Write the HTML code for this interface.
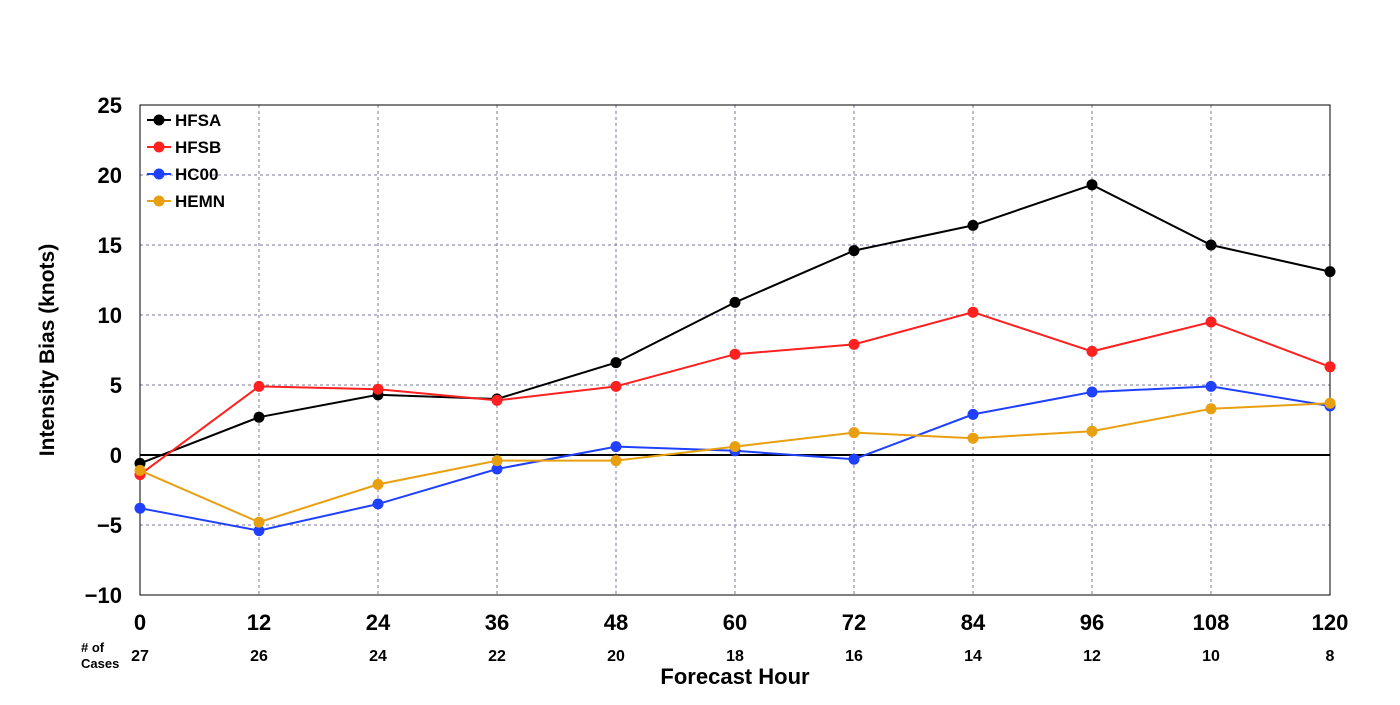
<!DOCTYPE html>
<html><head><meta charset="utf-8"><style>
body{margin:0;background:#fff;width:1400px;height:700px;overflow:hidden;font-family:"Liberation Sans",sans-serif}
</style></head><body>
<svg id="chart" width="1400" height="700" xmlns="http://www.w3.org/2000/svg" font-family="Liberation Sans, DejaVu Sans, sans-serif"></svg>
<script>
const hours=[0,12,24,36,48,60,72,84,96,108,120];
const cases=[27,26,24,22,20,18,16,14,12,10,8];
const yTicks=[-10,-5,0,5,10,15,20,25];
const hfsa=[-0.6,2.7,4.3,4.0,6.6,10.9,14.6,16.4,19.3,15.0,13.1];
const hfsb=[-1.4,4.9,4.7,3.9,4.9,7.2,7.9,10.2,7.4,9.5,6.3];
const hc00=[-3.8,-5.4,-3.5,-1.0,0.6,0.3,-0.3,2.9,4.5,4.9,3.5];
const hemn=[-1.1,-4.8,-2.1,-0.4,-0.4,0.6,1.6,1.2,1.7,3.3,3.7];
const seriesNames=["HFSA","HFSB","HC00","HEMN"];
const seriesData=[hfsa,hfsb,hc00,hemn];
const colors=["#000000","#ff2020","#2040ff","#e8a010"];

const X0=140,X1=1330,Y0=595,Y1=105;
const xs=v=>X0+(v-0)/(120-0)*(X1-X0);
const ys=v=>Y0-(v+10)/(35)*(Y0-Y1);
const svg=document.getElementById('chart');
const NS="http://www.w3.org/2000/svg";
function mk(t,a,p){const e=document.createElementNS(NS,t);for(const k in a)e.setAttribute(k,a[k]);(p||svg).appendChild(e);return e;}

// grid
hours.forEach(h=>{if(h>0&&h<120){const l=mk('line',{x1:xs(h),x2:xs(h),y1:Y1,y2:Y0,stroke:'#7a7a9a','stroke-dasharray':'3,3','stroke-width':1});

}});
yTicks.forEach(v=>{if(v!==0&&v!==-10&&v!==25){const l=mk('line',{x1:X0,x2:X1,y1:ys(v),y2:ys(v),stroke:'#7a7a9a','stroke-dasharray':'3,3','stroke-width':1});

}});
const zl=mk('line',{x1:X0,x2:X1,y1:ys(0),y2:ys(0),stroke:'#000','stroke-width':2});


const fr=mk('rect',{x:X0,y:Y1,width:X1-X0,height:Y0-Y1,fill:'none',stroke:'#000','stroke-width':1});



// y ticks
yTicks.forEach(v=>{const t=mk('text',{x:X0-18,y:ys(v)+8,'text-anchor':'end','font-size':22,'font-weight':'bold'});t.textContent=v<0?'\u2212'+Math.abs(v):v;

});
// x ticks & cases
hours.forEach((h,i)=>{const t=mk('text',{x:xs(h),y:630,'text-anchor':'middle','font-size':22,'font-weight':'bold'});t.textContent=h;


const c=mk('text',{x:xs(h),y:661,'text-anchor':'middle','font-size':16,'font-weight':'bold'});c.textContent=cases[i];

});
const n1=mk('text',{x:81,y:652,'font-size':13,'font-weight':'bold'});n1.textContent='# of';


const n2=mk('text',{x:81,y:668,'font-size':13,'font-weight':'bold'});n2.textContent='Cases';


const xt=mk('text',{x:735,y:684,'text-anchor':'middle','font-size':22,'font-weight':'bold'});xt.textContent='Forecast Hour';


const yt=mk('text',{x:0,y:0,'text-anchor':'middle','font-size':21,'font-weight':'bold',transform:'translate(54,350) rotate(-90)'});yt.textContent='Intensity Bias (knots)';



// series
seriesData.forEach((d,si)=>{
 const pts=d.map((v,i)=>xs(hours[i])+','+ys(v)).join(' ');
 const pl=mk('polyline',{points:pts,fill:'none',stroke:colors[si],'stroke-width':2});
 
 
 d.forEach((v,i)=>{const c=mk('circle',{cx:xs(hours[i]),cy:ys(v),r:5.5,fill:colors[si]});
 
 });
 // legend
 const ly=120+si*27;
 const ll=mk('line',{x1:147,x2:171,y1:ly,y2:ly,stroke:colors[si],'stroke-width':2});
 
 
 const lc=mk('circle',{cx:159,cy:ly,r:5.5,fill:colors[si]});
 
 
 const lt=mk('text',{x:175,y:ly+6,'font-size':17,'font-weight':'bold'});lt.textContent=seriesNames[si];
 
 
});
</script>
</body></html>
